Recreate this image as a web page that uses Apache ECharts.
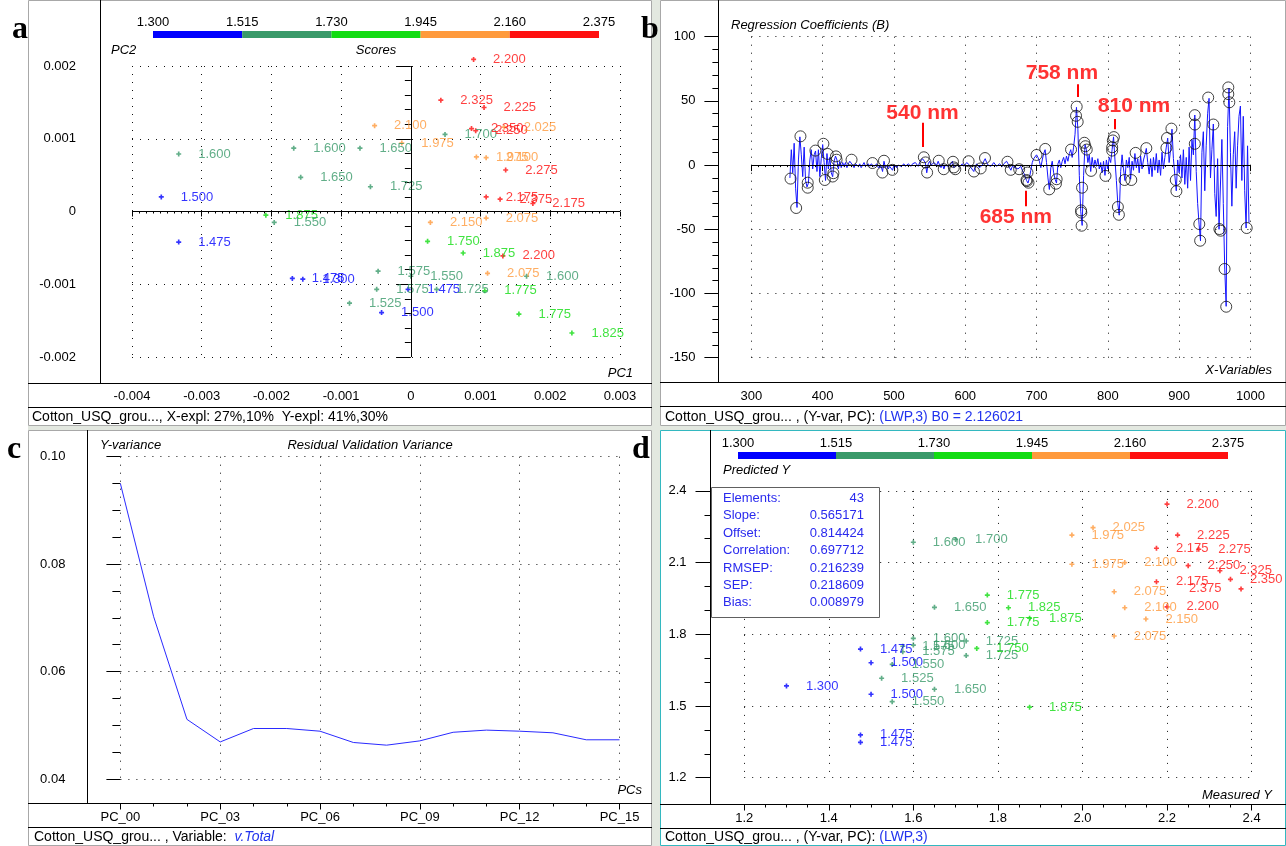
<!DOCTYPE html>
<html>
<head>
<meta charset="utf-8">
<script src="https://cdn.jsdelivr.net/npm/echarts@6.0.0/dist/echarts.min.js"></script>
<style>
  html, body { margin: 0; padding: 0; background: #fff; }
  #chart { width: 1286px; height: 846px; }
</style>
</head>
<body>
<div id="chart"></div>
<script>
// ---------------- data ----------------
// colour classes of the response (LWP)
const classBreakLabels = ['1.300', '1.515', '1.730', '1.945', '2.160', '2.375'];
const classBreaks = [1.300, 1.515, 1.730, 1.945, 2.160, 2.375];

// (a) PCA scores: sample value, PC1, PC2
const scoreNames = ['1.600','1.600','1.650','1.650','1.725','1.500','1.875','1.550','2.100','1.475',
  '1.475','1.300','1.575','1.575','1.525','1.500','1.475','1.550','1.725','1.750',
  '1.875','2.200','2.150','2.075','2.075','1.600','1.775','1.775','1.825','2.200',
  '2.325','2.225','1.700','1.975','2.350','2.250','2.025','1.975','2.100','2.275',
  '2.175','2.375','2.175'];
const scorePC1 = [-0.00333,-0.00168,-0.00073,-0.00158,-0.00058,-0.00358,-0.00208,-0.00196,-0.00052,-0.00333,
  -0.00170,-0.00155,-0.00047,-0.00049,-0.00088,-0.00042,-0.00004,0.00000,0.00037,0.00024,
  0.00075,0.00132,0.00028,0.00108,0.00110,0.00166,0.00106,0.00155,0.00231,0.00090,
  0.00043,0.00105,0.00049,-0.00013,0.00087,0.00093,0.00134,0.00094,0.00108,0.00136,
  0.00108,0.00128,0.00175];
const scorePC2 = [0.00079,0.00087,0.00087,0.00047,0.00034,0.00020,-0.00005,-0.00015,0.00118,-0.00042,
  -0.00092,-0.00093,-0.00082,-0.00107,-0.00126,-0.00139,-0.00107,-0.00089,-0.00107,-0.00041,
  -0.00057,-0.00061,-0.00015,-0.00009,-0.00085,-0.00089,-0.00109,-0.00141,-0.00167,0.00209,
  0.00153,0.00143,0.00106,0.00094,0.00114,0.00111,0.00116,0.00075,0.00074,0.00057,
  0.00020,0.00017,0.00011];

// (b) regression coefficients, one value every 2 nm from 354 nm to 998 nm
const coefStartNm = 354;
const coefStepNm = 2;
const coefB = [
  -10,12,-6,17,-18,-33,4,22,8,-9,14,-12,-17,-14,4,12,-3,8,11,-5,
  12,-9,5,16,2,-12,9,-3,6,-6,-9,3,7,4,-3,3,-2,2,-1,
  2,-2,1,3,4,0,-2,1,2,-1,1,-2,0,2,-1,0,1,-1,1,2,
  -1,0,1,-2,-3,-1,-5,3,-2,0,-3,-1,-2,-4,0,1,-2,0,1,-1,
  0,1,-1,0,1,0,-1,1,0,2,1,-1,2,3,5,
  6,2,-6,1,3,0,-1,2,1,0,3,0,-2,1,-3,0,1,-1,0,1,
  3,-2,-3,0,1,-1,0,1,-1,0,2,3,0,-2,-3,-5,-1,1,0,-2,
  -3,0,3,5,2,0,1,-1,0,2,1,-1,0,1,0,-1,1,2,3,1,
  -2,-4,-1,0,-2,-1,-3,-3,-1,-4,-6,-9,-12,-14,-10,-4,2,5,6,8,
  6,3,-2,4,9,12,2,-10,-19,-2,3,-6,-11,-14,1,4,-2,3,6,1,
  7,3,9,12,6,14,24,45,28,-8,
  -36,-47,-8,16,12,2,8,-5,6,-2,4,-1,5,-3,2,-6,3,-8,4,-3,
  6,2,12,22,4,-12,-30,-39,-5,8,-3,-12,4,-2,6,
  -11,3,-4,9,-2,5,-6,7,-3,4,8,13,2,-7,5,-9,6,-4,9,-6,
  4,-8,10,-3,6,14,21,2,12,28,5,-8,-20,4,-6,
  8,-10,12,-15,6,-18,14,-12,20,8,39,-5,-30,-46,-59,10,26,-20,15,40,
  52,-10,12,32,-22,-40,5,-50,-51,20,-30,-81,-110,30,60,10,-32,8,26,-18,
  15,38,46,-12,38,-20,-49,15,-45
];
// marked (significant) variables: wavelength, coefficient
const markedNm = [354.9,362.8,368.8,379,379,389.8,401,403,407,414,415,418.6,419.5,440.5,469.8,483.7,486,497.7,
  541.9,544.2,546.5,562.8,569.8,582.8,584,586,604.7,612.2,621.6,627.7,659.2,663.8,675.6,685.9,687.3,688.7,686.5,
  700,712.2,717.8,727.2,728.2,748.4,755.4,756.3,757.7,762.4,762.8,763.2,763.8,767.1,768.5,770.4,776.5,
  796.7,806.1,806.1,807,808.5,814.1,815.5,823.5,832.9,839,854,882.2,883,889.2,895.3,896.2,
  922,922,922,928.3,929.5,940.8,948,956.5,958.2,963.8,966.1,969,969,970.4,994.8];
const markedB = [-10.5,-33.4,22.4,-13.7,-17.6,11.3,16.6,-11.6,8.7,-8.9,-6.3,6.8,4.2,4.2,1.6,-5.8,3.4,-3.7,
  6.1,2.1,-5.8,3.4,-3.2,2.6,-1.8,-3.2,3,-5,-2.6,5.5,2.6,-3.7,-3.2,-11.6,-5.8,-13.7,-12.5,
  7.9,12.6,-18.9,-14.5,-11,12.1,38.4,45.5,33.7,-35.3,-37,-47.2,-17.6,17.4,14.7,12.1,-4.5,
  -8.4,11.3,13.9,19.2,21.8,-32.6,-38.7,-11.6,-11.6,9.5,13.2,13.4,21.1,28.4,-11.6,-20.3,
  16.6,31.6,38.9,-45.9,-58.9,52.6,31.6,-49.8,-51.1,-80.9,-110.3,55.3,60.5,48.9,-49];
// wavelength call-outs
const noteText = ['540 nm', '758 nm', '810 nm', '685 nm'];
const noteNm = [540, 758, 810, 685];
const noteTickFrom = [14, 53, 28, -20];
const noteTickTo = [33, 63, 36, -32];
const noteTextAt = [40.3, 71.4, 46.1, -40.2];

// (c) residual validation variance per number of PCs
const pcCount = [0,1,2,3,4,5,6,7,8,9,10,11,12,13,14,15];
const residualVar = [0.0950,0.0702,0.0511,0.0469,0.0494,0.0494,0.0489,0.0468,0.0463,0.0471,
  0.0487,0.0491,0.0489,0.0486,0.0473,0.0473];

// (d) measured vs predicted
const measuredY = [1.475,1.500,1.300,1.500,1.475,1.475,
  1.600,1.700,1.650,1.600,1.600,1.575,1.575,1.550,1.525,1.650,1.550,1.725,1.725,
  1.775,1.775,1.825,1.875,1.750,1.875,
  1.975,2.025,1.975,2.100,2.075,2.100,2.150,2.075,
  2.200,2.225,2.175,2.275,2.250,2.325,2.350,2.175,2.375,2.200];
const predictedY = [1.738,1.681,1.584,1.549,1.379,1.348,
  2.185,2.197,1.913,1.783,1.755,1.750,1.727,1.674,1.616,1.570,1.518,1.772,1.711,
  1.964,1.849,1.911,1.867,1.741,1.495,
  2.215,2.246,2.093,2.100,1.978,1.911,1.864,1.793,
  2.345,2.215,2.160,2.156,2.087,2.066,2.030,2.020,1.990,1.915];
const statNames = ['Elements:', 'Slope:', 'Offset:', 'Correlation:', 'RMSEP:', 'SEP:', 'Bias:'];
const statValues = ['43', '0.565171', '0.814424', '0.697712', '0.216239', '0.218609', '0.008979'];

// ---------------- styling ----------------
const FONT = "'Liberation Sans', Arial, Helvetica, sans-serif";
const classColors = ['#0000ff', '#3a9a6a', '#12dc12', '#ff9a3c', '#ff1010'];
function classColor(v) {
  for (let i = 1; i < classBreaks.length - 1; i++) if (v < classBreaks[i]) return classColors[i - 1];
  return classColors[classColors.length - 1];
}
const W = 1286, H = 846;
const plusPath = 'path://M-1,-3H1V-1H3V1H1V3H-1V1H-3V-1H-1Z';
const dotted = { color: '#111', width: 1, type: [1, 7] };

function valueAxis(gridIndex, o) {
  return {
    gridIndex, type: 'value', min: o.min, max: o.max, interval: o.interval,
    position: o.position, offset: o.offset,
    axisLine: { show: false },
    axisTick: { show: true, length: o.tick, lineStyle: { color: '#000', width: 1 } },
    minorTick: { show: true, splitNumber: o.minor, length: o.minorTick, lineStyle: { color: '#000', width: 1 } },
    axisLabel: { show: true, color: '#000', fontFamily: FONT, fontSize: 13, margin: o.margin,
      formatter: o.fmt, hideOverlap: false, showMinLabel: true, showMaxLabel: true },
    splitLine: { show: true, lineStyle: dotted },
    minorSplitLine: { show: false },
    axisPointer: { show: false }
  };
}
function barAxis(gridIndex, pos, show) {
  return {
    gridIndex, type: 'value', min: 0, max: pos === 'top' ? classBreaks.length - 1 : 1, interval: 1,
    position: pos, axisLine: { show: false }, axisTick: { show: false }, splitLine: { show: false },
    axisLabel: { show: show, color: '#000', fontFamily: FONT, fontSize: 13, margin: 2,
      formatter: v => classBreakLabels[Math.round(v)] || '' }
  };
}
function grid(left, right, top, bottom) {
  return { left, top, width: right - left, height: bottom - top, containLabel: false, outerBoundsMode: 'none', show: false };
}
const fmt3 = v => Math.abs(v) < 1e-9 ? '0' : v.toFixed(3);

// ---------------- frames and texts ----------------
const panels = {
  a: { x0: 28, x1: 652, y0: 0, y1: 426, yAxisX: 100.5, xAxisY: 383.5, sepY: 407.5 },
  b: { x0: 660, x1: 1286, y0: 0, y1: 426, yAxisX: 718.5, xAxisY: 382.5, sepY: 406.5 },
  c: { x0: 28, x1: 652, y0: 430, y1: 846, yAxisX: 87.5, xAxisY: 803.5, sepY: 827.5 },
  d: { x0: 660, x1: 1286, y0: 430, y1: 846, yAxisX: 710.5, xAxisY: 804.5, sepY: 828.5 }
};
const graphics = [];
graphics.push({ type: 'rect', z: -10, shape: { x: 652, y: 0, width: 8, height: H }, style: { fill: '#e3e8e0' } });
graphics.push({ type: 'rect', z: -10, shape: { x: 28, y: 426, width: W - 28, height: 4 }, style: { fill: '#e3e8e0' } });
Object.keys(panels).forEach(k => {
  const p = panels[k];
  const edge = k === 'd' ? '#33b8c0' : '#a8a8a8';
  graphics.push({ type: 'rect', z: 5, shape: { x: p.x0 + 0.5, y: p.y0 + 0.5, width: p.x1 - p.x0 - 1, height: p.y1 - p.y0 - 1 },
    style: { fill: null, stroke: edge, lineWidth: 1 } });
  graphics.push({ type: 'line', z: 5, shape: { x1: p.yAxisX, y1: p.y0, x2: p.yAxisX, y2: p.xAxisY }, style: { stroke: '#000', lineWidth: 1 } });
  graphics.push({ type: 'line', z: 5, shape: { x1: p.x0, y1: p.xAxisY, x2: p.x1, y2: p.xAxisY }, style: { stroke: '#000', lineWidth: 1 } });
  graphics.push({ type: 'line', z: 5, shape: { x1: p.x0, y1: p.sepY, x2: p.x1, y2: p.sepY }, style: { stroke: '#000', lineWidth: 1 } });
});
function txt(text, x, y, o) {
  o = o || {};
  return { type: 'text', z: o.z || 6, style: {
    text, x, y, fill: o.fill || '#000', fontFamily: o.family || FONT, fontSize: o.size || 13,
    fontStyle: o.italic ? 'italic' : 'normal', fontWeight: o.bold ? 'bold' : 'normal',
    align: o.align || 'left', verticalAlign: 'middle', rich: o.rich } };
}
// axis titles
graphics.push(txt('PC2', 111, 50, { italic: true }));
graphics.push(txt('Scores', 376, 50, { italic: true, align: 'center' }));
graphics.push(txt('PC1', 633, 373, { italic: true, align: 'right' }));
graphics.push(txt('Regression Coefficients (B)', 731, 25, { italic: true }));
graphics.push(txt('X-Variables', 1272, 370, { italic: true, align: 'right' }));
graphics.push(txt('Y-variance', 100, 445, { italic: true }));
graphics.push(txt('Residual Validation Variance', 370, 445, { italic: true, align: 'center' }));
graphics.push(txt('PCs', 642, 790, { italic: true, align: 'right' }));
graphics.push(txt('Predicted Y', 723, 470, { italic: true }));
graphics.push(txt('Measured Y', 1272, 795, { italic: true, align: 'right' }));
// status lines
const richStatus = { k: { fill: '#000', fontFamily: FONT, fontSize: 14 }, v: { fill: '#2233ee', fontFamily: FONT, fontSize: 14 },
  vi: { fill: '#2233ee', fontFamily: FONT, fontSize: 14, fontStyle: 'italic' } };
graphics.push(txt('{k|Cotton_USQ_grou..., X-expl: 27%,10%  Y-expl: 41%,30%}', 32, 417, { rich: richStatus, size: 14 }));
graphics.push(txt('{k|Cotton_USQ_grou... , (Y-var, PC): }{v|(LWP,3) B0 = 2.126021}', 665, 417, { rich: richStatus, size: 14 }));
graphics.push(txt('{k|Cotton_USQ_grou... , Variable:  }{vi|v.Total}', 34, 837, { rich: richStatus, size: 14 }));
graphics.push(txt('{k|Cotton_USQ_grou... , (Y-var, PC): }{v|(LWP,3)}', 665, 837, { rich: richStatus, size: 14 }));
// statistics box
graphics.push({ type: 'rect', z: 20, shape: { x: 711.5, y: 487.5, width: 168, height: 130 }, style: { fill: '#fff', stroke: '#606060', lineWidth: 1 } });
statNames.forEach((n, i) => {
  graphics.push(txt(n, 723, 498.5 + i * 17.4, { fill: '#2a2aee', z: 21 }));
  graphics.push(txt(statValues[i], 864, 498.5 + i * 17.4, { fill: '#2a2aee', z: 21, align: 'right' }));
});
// panel letters
const serif = "'Liberation Serif', 'Times New Roman', serif";
graphics.push(txt('a', 20, 30, { family: serif, size: 32, bold: true, align: 'center', z: 50 }));
graphics.push(txt('b', 650, 30, { family: serif, size: 32, bold: true, align: 'center', z: 50 }));
graphics.push(txt('c', 14, 450, { family: serif, size: 32, bold: true, align: 'center', z: 50 }));
graphics.push(txt('d', 641, 450, { family: serif, size: 32, bold: true, align: 'center', z: 50 }));

// ---------------- series data ----------------
const scoreData = scoreNames.map((n, i) => {
  const c = classColor(parseFloat(n));
  return { name: n, value: [scorePC1[i], scorePC2[i]], itemStyle: { color: c }, label: { color: c } };
});
const coefData = coefB.map((v, i) => [coefStartNm + i * coefStepNm, v]);
const markedData = markedNm.map((x, i) => [x, markedB[i]]);
const noteShift = [0, -16, 19, -10];
const noteData = noteNm.map((x, i) => ({ name: noteText[i], value: [x, noteTextAt[i]], label: { offset: [noteShift[i], 0] } }));
const noteLines = noteNm.map((x, i) => [{ coord: [x, noteTickFrom[i]] }, { coord: [x, noteTickTo[i]] }]);
const varData = pcCount.map((p, i) => [p, residualVar[i]]);
const predData = measuredY.map((m, i) => {
  const c = classColor(m);
  return { name: m.toFixed(3), value: [m, predictedY[i]], itemStyle: { color: c },
    label: { color: c, position: m > 2.36 ? 'left' : 'right' } };
});
const barData = classColors.map((c, i) => [i, i + 1, i]);
function barItem(params, api) {
  const p0 = api.coord([api.value(0), 1]);
  const p1 = api.coord([api.value(1), 0]);
  return { type: 'rect', shape: { x: p0[0], y: p0[1], width: p1[0] - p0[0], height: p1[1] - p0[1] },
    style: { fill: classColors[api.value(2)] } };
}
const pointLabel = { show: true, position: 'right', distance: 17, fontFamily: FONT, fontSize: 13, formatter: p => p.name };
const zeroLine = (arr) => ({ silent: true, symbol: ['none', 'none'], label: { show: false },
  lineStyle: { color: '#000', width: 1, type: 'solid' }, emphasis: { disabled: true }, data: arr });

const option = {
  animation: false,
  backgroundColor: '#fff',
  textStyle: { fontFamily: FONT },
  grid: [
    grid(132, 620, 66, 357),          // a
    grid(751.4, 1250.4, 36.7, 357.7), // b
    grid(120.4, 619.5, 456.7, 779),   // c
    grid(744.2, 1251.6, 490.9, 777.7),// d
    grid(153, 599, 31, 38),           // colour bar a
    grid(738, 1228, 452, 459)         // colour bar d
  ],
  xAxis: [
    valueAxis(0, { min: -0.004, max: 0.003, interval: 0.001, position: 'bottom', offset: 26, tick: 5, minor: 10, minorTick: 2, margin: 7, fmt: fmt3 }),
    valueAxis(1, { min: 300, max: 1000, interval: 100, position: 'bottom', offset: 25, tick: 6, minor: 10, minorTick: 2, margin: 7, fmt: v => String(Math.round(v)) }),
    valueAxis(2, { min: 0, max: 15, interval: 3, position: 'bottom', offset: 24.5, tick: 6, minor: 3, minorTick: 3, margin: 7, fmt: v => 'PC_' + String(Math.round(v)).padStart(2, '0') }),
    valueAxis(3, { min: 1.2, max: 2.4, interval: 0.2, position: 'bottom', offset: 26.8, tick: 6, minor: 4, minorTick: 3, margin: 7, fmt: v => v.toFixed(1) }),
    barAxis(4, 'top', true),
    barAxis(5, 'top', true)
  ],
  yAxis: [
    valueAxis(0, { min: -0.002, max: 0.002, interval: 0.001, position: 'left', offset: 32, tick: 14, minor: 5, minorTick: 6, margin: 24, fmt: fmt3 }),
    valueAxis(1, { min: -150, max: 100, interval: 50, position: 'left', offset: 33, tick: 14, minor: 5, minorTick: 6, margin: 23, fmt: v => String(Math.round(v)) }),
    valueAxis(2, { min: 0.04, max: 0.10, interval: 0.02, position: 'left', offset: 33, tick: 14, minor: 4, minorTick: 8, margin: 22, fmt: v => v.toFixed(2) }),
    valueAxis(3, { min: 1.2, max: 2.4, interval: 0.3, position: 'left', offset: 33.7, tick: 15, minor: 3, minorTick: 6, margin: 24, fmt: v => v.toFixed(1) }),
    barAxis(4, 'left', false),
    barAxis(5, 'left', false)
  ],
  series: [
    { type: 'scatter', name: 'scores', xAxisIndex: 0, yAxisIndex: 0, symbol: plusPath, symbolSize: 5, clip: false,
      data: scoreData, label: pointLabel, emphasis: { disabled: true }, z: 4,
      markLine: zeroLine([{ xAxis: 0 }, { yAxis: 0 }]) },
    { type: 'line', name: 'B', xAxisIndex: 1, yAxisIndex: 1, data: coefData, showSymbol: false, symbol: 'none',
      lineStyle: { color: '#1515ff', width: 1 }, emphasis: { disabled: true }, z: 3,
      markLine: zeroLine([{ yAxis: 0 }]) },
    { type: 'scatter', name: 'marked', xAxisIndex: 1, yAxisIndex: 1, data: markedData, symbol: 'circle', symbolSize: 11,
      itemStyle: { color: 'rgba(0,0,0,0)', borderColor: '#111', borderWidth: 1 }, emphasis: { disabled: true }, z: 5 },
    { type: 'scatter', name: 'notes', xAxisIndex: 1, yAxisIndex: 1, data: noteData, symbol: 'circle', symbolSize: 1, clip: false,
      itemStyle: { color: 'rgba(0,0,0,0)' }, z: 6, emphasis: { disabled: true },
      label: { show: true, position: 'inside', formatter: p => p.name, color: '#ff0000', fontFamily: FONT, fontSize: 21, fontWeight: 'bold' },
      markLine: { silent: true, symbol: ['none', 'none'], label: { show: false }, emphasis: { disabled: true },
        lineStyle: { color: '#ff0000', width: 2, type: 'solid' }, data: noteLines } },
    { type: 'line', name: 'residual', xAxisIndex: 2, yAxisIndex: 2, data: varData, showSymbol: false, symbol: 'none',
      lineStyle: { color: '#2a2aff', width: 1 }, emphasis: { disabled: true } },
    { type: 'scatter', name: 'predicted', xAxisIndex: 3, yAxisIndex: 3, symbol: plusPath, symbolSize: 5, clip: false,
      data: predData, label: pointLabel, emphasis: { disabled: true }, z: 4 },
    { type: 'custom', xAxisIndex: 4, yAxisIndex: 4, data: barData, renderItem: barItem, silent: true },
    { type: 'custom', xAxisIndex: 5, yAxisIndex: 5, data: barData, renderItem: barItem, silent: true }
  ],
  graphic: { elements: graphics }
};
const chart = echarts.init(document.getElementById('chart'), null, { renderer: 'canvas', width: W, height: H });
chart.setOption(option);
</script>
</body>
</html>
